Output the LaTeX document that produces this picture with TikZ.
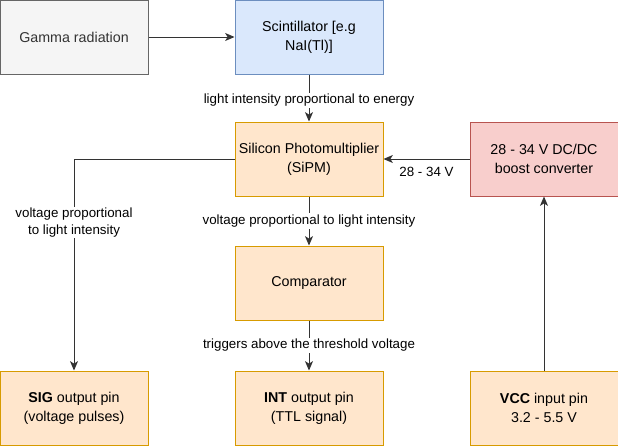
\documentclass[tikz,border=0pt]{standalone}
\usepackage{fontspec}
\setmainfont{Liberation Sans}
\usepackage{tikz}
\usetikzlibrary{arrows.meta,positioning}
\usepackage{xcolor}
\definecolor{ioFill}{HTML}{F5F5F5}
\definecolor{ioBorder}{HTML}{666666}
\definecolor{scFill}{HTML}{DAE8FC}
\definecolor{scBorder}{HTML}{6C8EBF}
\definecolor{pmFill}{HTML}{FFE6CC}
\definecolor{pmBorder}{HTML}{D79B00}
\definecolor{pwFill}{HTML}{F8CECC}
\definecolor{pwBorder}{HTML}{B85450}
\definecolor{txtGrey}{HTML}{333333}
\tikzset{
    % block styles
    block/.style={rectangle,line width=0.75pt,minimum width=111pt,minimum height=55.5pt,align=center,font=\fontsize{10.7}{14.5}\selectfont,inner sep=1pt},
    source/.style={block,draw=ioBorder,fill=ioFill,text=txtGrey},
    crystal/.style={block,draw=scBorder,fill=scFill},
    stage/.style={block,draw=pmBorder,fill=pmFill},
    supply/.style={block,draw=pwBorder,fill=pwFill},
    % connectors and their labels
    flow/.style={-{Stealth[length=7pt,width=6pt,inset=1.8pt]},line width=0.75pt,draw=black!80},
    lbl/.style={fill=white,inner sep=1pt,align=center,font=\fontsize{10}{12.5}\selectfont}
}

\begin{document}
\begin{tikzpicture}[x=0.75pt,y=-0.75pt]
    \useasboundingbox (0,0) rectangle (618,446);

    % Top row
    \node[source] (gamma) at (74,37) {Gamma radiation};
    \node[crystal] (scint) at (309,37) {Scintillator [e.g\\NaI(Tl)]};

    % Middle column
    \node[stage] (sipm) at (309,159) {Silicon Photomultiplier\\(SiPM)};
    \node[stage] (comp) at (309,283) {Comparator};
    \node[supply] (boost) at (544,159) {28 - 34 V DC/DC\\boost converter};

    % Pins
    \node[stage] (sig) at (74,408) {\textbf{SIG} output pin\\(voltage pulses)};
    \node[stage] (int) at (309,408) {\textbf{INT} output pin\\(TTL signal)};
    \node[stage] (vcc) at (544,408) {\textbf{VCC} input pin\\3.2 - 5.5 V};

    % Signal path
    \draw[flow] (gamma) -- (scint);
    \draw[flow] (scint) -- node[lbl,pos=0.55]{light intensity proportional to energy} (sipm);
    \draw[flow] (sipm) -- node[lbl]{voltage proportional to light intensity} (comp);
    \draw[flow] (comp) -- node[lbl]{triggers above the threshold voltage} (int);
    \draw[flow] (sipm.west) -| node[lbl,pos=0.65]{voltage proportional\\to light intensity} (sig.north);

    % Power path
    \draw[flow] (vcc) -- (boost);
    \draw[flow] (boost) -- node[lbl,below=5pt,pos=0.5,fill=none]{28 - 34 V} (sipm);
\end{tikzpicture}
\end{document}
